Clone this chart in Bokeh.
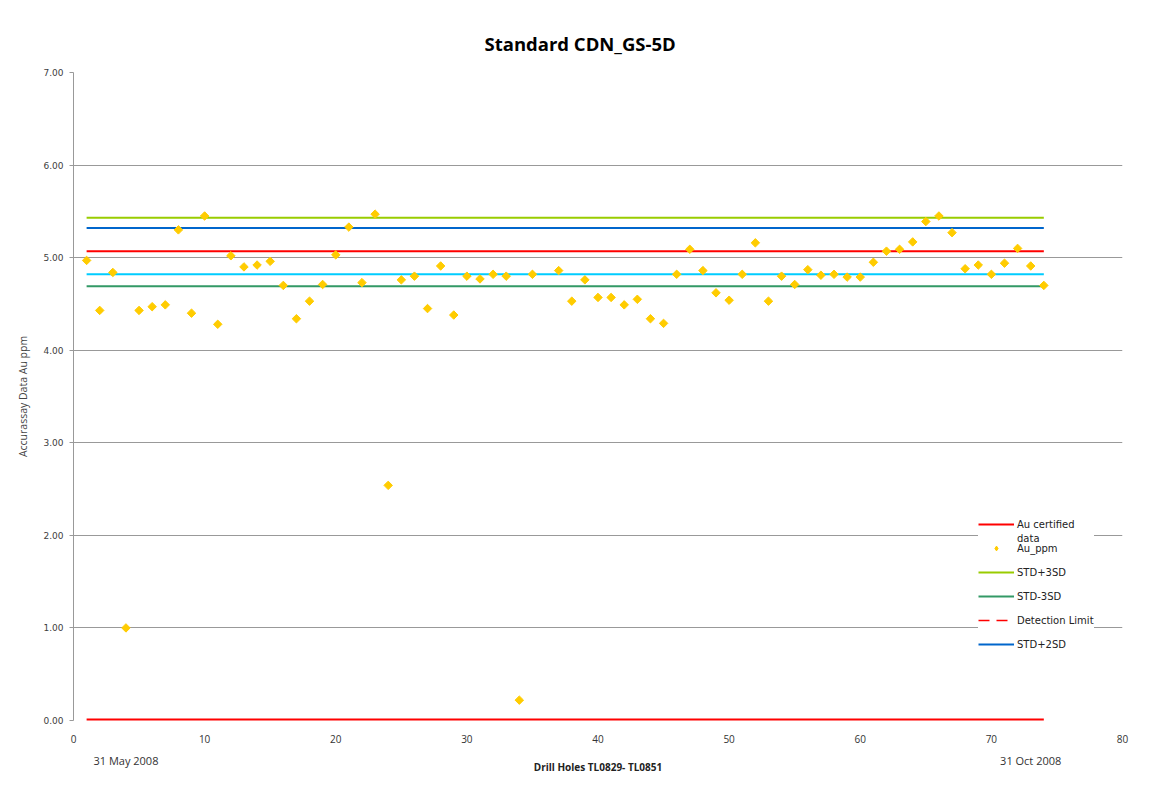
import math
from bokeh.plotting import figure
from bokeh.models import (Legend, LegendItem, FixedTicker, PrintfTickFormatter,
                          Range1d, ColumnDataSource, LinearAxis)
from bokeh.embed import file_html
from bokeh.resources import INLINE

# ---- data ----
sample_no = list(range(1, 75))
au_ppm = [4.97, 4.43, 4.84, 1.00, 4.43, 4.47, 4.49, 5.30, 4.40, 5.45,
          4.28, 5.02, 4.90, 4.92, 4.96, 4.70, 4.34, 4.53, 4.71, 5.03,
          5.33, 4.73, 5.47, 2.54, 4.76, 4.80, 4.45, 4.91, 4.38, 4.80,
          4.77, 4.82, 4.80, 0.22, 4.82, float("nan"), 4.86, 4.53, 4.76, 4.57,
          4.57, 4.49, 4.55, 4.34, 4.29, 4.82, 5.09, 4.86, 4.62, 4.54,
          4.82, 5.16, 4.53, 4.80, 4.71, 4.87, 4.81, 4.82, 4.79, 4.79,
          4.95, 5.07, 5.09, 5.17, 5.39, 5.45, 5.27, 4.88, 4.92, 4.82,
          4.94, 5.10, 4.91, 4.70]

line_span = [1, 74]
au_certified = 5.07
std_plus_3sd = 5.43
std_plus_2sd = 5.32
std_minus_2sd = 4.82
std_minus_3sd = 4.69
detection_limit = 0.0

x_ticks = [0, 10, 20, 30, 40, 50, 60, 70, 80]
y_ticks = [0, 1, 2, 3, 4, 5, 6, 7]

title_text = "Standard CDN_GS-5D"
x_label = "Drill Holes TL0829- TL0851"
y_label = "Accurassay Data Au ppm"
date_ticks = [4, 73]
date_labels = ["31 May 2008", "31 Oct 2008"]

# ---- figure ----
p = figure(width=1140, height=776, output_backend="svg", toolbar_location=None,
           x_range=Range1d(0, 80), y_range=Range1d(0, 7),
           min_border_left=73, min_border_right=18, min_border_top=72, min_border_bottom=56)
p.outline_line_color = None
p.background_fill_color = "white"
p.border_fill_color = "white"

p.title.text = title_text
p.title.align = "left"
p.title.offset = 411
p.title.standoff = 33
p.title.text_font = "Open Sans"
p.title.text_font_size = "18.5px"
p.title.text_font_style = "bold"
p.title.text_color = "black"

# grid
p.xgrid.grid_line_color = None
p.ygrid.grid_line_color = "#999999"
p.ygrid.grid_line_width = 1
p.ygrid.ticker = FixedTicker(ticks=y_ticks)

# primary x axis: numbers (its baseline is the 0.00 grid line)
p.xaxis.ticker = FixedTicker(ticks=x_ticks)
p.xaxis.axis_line_color = None
p.xaxis.major_tick_line_color = None
p.xaxis.minor_tick_line_color = None
p.xaxis.major_tick_out = 0
p.xaxis.major_label_standoff = 14
p.xaxis.major_label_text_font = "Open Sans"
p.xaxis.major_label_text_font_size = "10px"
p.xaxis.major_label_text_color = "#333333"

# secondary x axis: dates + axis title on the same row
date_axis = LinearAxis(ticker=FixedTicker(ticks=date_ticks),
                       major_label_overrides={t: s for t, s in zip(date_ticks, date_labels)})
date_axis.axis_line_color = None
date_axis.major_tick_line_color = None
date_axis.minor_tick_line_color = None
date_axis.major_tick_out = 0
date_axis.major_tick_in = 0
date_axis.major_label_standoff = 7
date_axis.major_label_text_font = "Open Sans"
date_axis.major_label_text_font_size = "11px"
date_axis.major_label_text_color = "#333333"
date_axis.axis_label = x_label
date_axis.axis_label_text_font = "Open Sans"
date_axis.axis_label_text_font_size = "10px"
date_axis.axis_label_text_font_style = "bold"
date_axis.axis_label_text_color = "#222222"
date_axis.axis_label_standoff = -11
p.add_layout(date_axis, "below")

p.yaxis.ticker = FixedTicker(ticks=y_ticks)
p.yaxis.formatter = PrintfTickFormatter(format="%.2f")
p.yaxis.axis_line_color = "#999999"
p.yaxis.major_tick_line_color = "#999999"
p.yaxis.major_tick_out = 4
p.yaxis.major_tick_in = 0
p.yaxis.minor_tick_line_color = None
p.yaxis.major_label_standoff = 6
p.yaxis.major_label_text_font = "DejaVu Sans"
p.yaxis.major_label_text_font_size = "9px"
p.yaxis.major_label_text_color = "#404040"
p.yaxis.axis_label = y_label
p.yaxis.axis_label_text_font = "Open Sans"
p.yaxis.axis_label_text_font_size = "10.5px"
p.yaxis.axis_label_text_font_style = "normal"
p.yaxis.axis_label_standoff = 10

# reference lines
def hline(val, color, width=2):
    return p.line(x=line_span, y=[val, val], line_color=color, line_width=width)

r_cert = hline(au_certified, "#ff0000")
r_p3 = hline(std_plus_3sd, "#99cc00")
r_p2 = hline(std_plus_2sd, "#0066cc")
r_m2 = hline(std_minus_2sd, "#00ccff")
r_m3 = hline(std_minus_3sd, "#339966")
r_det = hline(detection_limit, "#ff0000", width=4)  # lower half is hidden by the frame edge

# legend-only glyphs (placed outside the visible range)
r_det_leg = p.line(x=[-20, -10], y=[detection_limit, detection_limit],
                   line_color="#ff0000", line_width=1.5, line_dash="11 7")
r_blank = p.line(x=[-20, -10], y=[0, 0], line_alpha=0)
r_pts_leg = p.scatter(x=[-15], y=[1], marker="diamond", size=10,
                      fill_color="#ffcc00", line_color="#ffcc00")

src = ColumnDataSource(dict(x=sample_no, y=au_ppm))
r_pts = p.scatter("x", "y", source=src, marker="square", size=6, angle=math.pi / 4,
                  fill_color="#ffcc00", line_color="#ffcc00")

def style_legend(lg, bg=True):
    lg.border_line_color = None
    lg.background_fill_color = "white"
    lg.background_fill_alpha = 1.0 if bg else 0.0
    lg.label_text_font = "DejaVu Sans"
    lg.label_text_font_size = "10px"
    lg.label_text_color = "#222222"
    lg.glyph_width = 36
    lg.glyph_height = 12
    lg.spacing = 12
    lg.label_standoff = 3
    lg.padding = 4
    lg.margin = 0

legend = Legend(items=[
    LegendItem(label="Au certified", renderers=[r_cert]),
    LegendItem(label="Au_ppm", renderers=[r_pts_leg]),
    LegendItem(label="STD+3SD", renderers=[r_p3]),
    LegendItem(label="STD-3SD", renderers=[r_m3]),
    LegendItem(label="Detection Limit", renderers=[r_det_leg]),
    LegendItem(label="STD+2SD", renderers=[r_p2]),
], location=(905, 70))
style_legend(legend)
p.add_layout(legend, "center")

legend2 = Legend(items=[LegendItem(label="data", renderers=[r_blank])], location=(905, 176))
style_legend(legend2, bg=False)
p.add_layout(legend2, "center")

open("out.html", "w").write(file_html(p, INLINE))
